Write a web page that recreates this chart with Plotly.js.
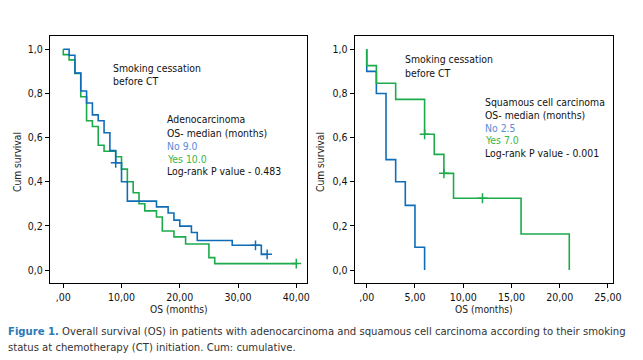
<!DOCTYPE html>
<html>
<head>
<meta charset="utf-8">
<script src="https://cdn.plot.ly/plotly-3.0.1.min.js"></script>
<style>
html,body{margin:0;padding:0;background:#fff;}
#chart{width:643px;height:360px;}
</style>
</head>
<body>
<div id="chart"></div>
<script>
// ---- Data ----
// Left panel: Adenocarcinoma
const adenoNoTime = [0, 1, 2, 3, 4, 5, 6, 7, 8, 9, 10, 11, 16, 18, 19, 20, 22, 23, 29, 34, 35];
const adenoNoSurv = [1.0, 0.973, 0.892, 0.811, 0.757, 0.703, 0.676, 0.622, 0.541, 0.486, 0.40, 0.312, 0.286, 0.258, 0.226, 0.199, 0.170, 0.134, 0.112, 0.071, 0.071];
const adenoNoCensT = [9, 33, 35];
const adenoNoCensS = [0.486, 0.112, 0.071];

const adenoYesTime = [0, 0, 1, 2, 3, 4, 5, 6, 7, 9, 10, 11, 12, 13, 14, 16, 17, 19, 21, 25, 26, 40];
const adenoYesSurv = [1.0, 0.976, 0.952, 0.891, 0.785, 0.676, 0.650, 0.565, 0.538, 0.513, 0.457, 0.400, 0.350, 0.300, 0.268, 0.240, 0.177, 0.150, 0.118, 0.056, 0.029, 0.029];
const adenoYesCensT = [40];
const adenoYesCensS = [0.029];

// Right panel: Squamous cell carcinoma
const squamNoTime = [0, 0, 1, 2, 3, 4, 5, 6];
const squamNoSurv = [1.0, 0.90, 0.80, 0.50, 0.40, 0.293, 0.103, 0.0];

const squamYesTime = [0, 0, 1, 3, 6, 7, 8, 9, 16, 21];
const squamYesSurv = [1.0, 0.926, 0.846, 0.773, 0.615, 0.524, 0.438, 0.325, 0.163, 0.0];
const squamYesCensT = [6, 8, 12];
const squamYesCensS = [0.615, 0.438, 0.325];

// Tick labels
const yTickVals = [0, 0.2, 0.4, 0.6, 0.8, 1.0];
const yTickText = ["0,0", "0,2", "0,4", "0,6", "0,8", "1,0"];
const xLeftTickVals = [0, 10, 20, 30, 40];
const xLeftTickText = [",00", "10,00", "20,00", "30,00", "40,00"];
const xRightTickVals = [0, 5, 10, 15, 20, 25];
const xRightTickText = [",00", "5,00", "10,00", "15,00", "20,00", "25,00"];

// ---- Styling ----
const BLUE = "#0f6db8";
const GREEN = "#1cab4a";
const FONT = "DejaVu Sans Condensed, DejaVu Sans, sans-serif";
const W = 643, H = 360;
const px = v => v / W;
const py = v => 1 - v / H;

function stepTrace(x, y, color, xa, ya) {
  return {x: x, y: y, type: "scatter", mode: "lines", xaxis: xa, yaxis: ya,
    line: {shape: "hv", color: color, width: 1.6}, hoverinfo: "skip", showlegend: false};
}
function censTrace(x, y, color, xa, ya) {
  return {x: x, y: y, type: "scatter", mode: "markers", xaxis: xa, yaxis: ya,
    marker: {symbol: "cross-thin", size: 7, line: {color: color, width: 1.5}, color: color},
    hoverinfo: "skip", showlegend: false};
}

const traces = [
  stepTrace(adenoYesTime, adenoYesSurv, GREEN, "x", "y"),
  stepTrace(adenoNoTime, adenoNoSurv, BLUE, "x", "y"),
  censTrace(adenoNoCensT, adenoNoCensS, BLUE, "x", "y"),
  censTrace(adenoYesCensT, adenoYesCensS, GREEN, "x", "y"),
  stepTrace(squamNoTime, squamNoSurv, BLUE, "x2", "y2"),
  stepTrace(squamYesTime, squamYesSurv, GREEN, "x2", "y2"),
  censTrace(squamYesCensT, squamYesCensS, GREEN, "x2", "y2")
];

const yDomain = [py(283), py(35.7)];
const axisCommon = {
  showline: true, mirror: true, linecolor: "#000", linewidth: 1,
  showgrid: false, zeroline: false, ticks: "outside", ticklen: 4, tickcolor: "#000",
  tickfont: {family: FONT, size: 10.5, color: "#111"}, fixedrange: true
};

const ANN_SIZE = 10.4;
const CAP_SIZE = 11.2;
const txt = (t, x, y, color, extra, size) => Object.assign({
  text: t, x: px(x), y: py(y), xref: "paper", yref: "paper",
  xanchor: "left", yanchor: "middle", showarrow: false,
  font: {family: FONT, size: size || ANN_SIZE, color: color || "#111"}
}, extra || {});

const annotations = [
  // left panel
  txt("Smoking cessation", 110.5, 67.5),
  txt("before CT", 110.5, 81.5),
  txt("Adenocarcinoma", 165, 119.5),
  txt("OS- median (months)", 165, 132.5),
  txt("No 9.0", 165, 145.5, "#5b8bd6"),
  txt("Yes 10.0", 165, 158.5, "#39b54a"),
  txt("Log-rank P value - 0.483", 165, 171),
  // right panel
  txt("Smoking cessation", 403, 59.5),
  txt("before CT", 403, 73),
  txt("Squamous cell carcinoma", 483, 101.5),
  txt("OS- median (months)", 483, 114.5),
  txt("No 2.5", 483, 127.5, "#5b8bd6"),
  txt("Yes 7.0", 483, 140, "#39b54a"),
  txt("Log-rank P value - 0.001", 483, 153),
  // axis titles
  txt("OS (months)", 178.5, 309.5, "#1a1a1a", {xanchor: "center"}, 10.2),
  txt("OS (months)", 483.7, 309.5, "#1a1a1a", {xanchor: "center"}, 10.2),
  txt("Cum survival", 18, 162, "#1a1a1a", {xanchor: "center", textangle: -90}, 10.2),
  txt("Cum survival", 321, 162, "#1a1a1a", {xanchor: "center", textangle: -90}, 10.2),
  // caption
  txt("<b><span style='color:#2a7ab8'>Figure 1.</span></b> Overall survival (OS) in patients with adenocarcinoma and squamous cell carcinoma according to their smoking", 6, 331.5, "#333", null, CAP_SIZE),
  txt("status at chemotherapy (CT) initiation. Cum: cumulative.", 6, 347, "#333", null, CAP_SIZE)
];

const layout = {
  width: W, height: H,
  margin: {l: 0, r: 0, t: 0, b: 0, pad: 0},
  paper_bgcolor: "#fff", plot_bgcolor: "#fff",
  showlegend: false,
  xaxis: Object.assign({}, axisCommon, {domain: [px(50), px(307)], range: [-2.28, 41.84],
    tickmode: "array", tickvals: xLeftTickVals, ticktext: xLeftTickText, anchor: "y"}),
  yaxis: Object.assign({}, axisCommon, {domain: yDomain, range: [-0.0589, 1.0616],
    tickmode: "array", tickvals: yTickVals, ticktext: yTickText, anchor: "x"}),
  xaxis2: Object.assign({}, axisCommon, {domain: [px(354.7), px(612.7)], range: [-1.247, 25.5],
    tickmode: "array", tickvals: xRightTickVals, ticktext: xRightTickText, anchor: "y2"}),
  yaxis2: Object.assign({}, axisCommon, {domain: yDomain, range: [-0.0589, 1.0616],
    tickmode: "array", tickvals: yTickVals, ticktext: yTickText, anchor: "x2"}),
  annotations: annotations
};

Plotly.newPlot("chart", traces, layout, {staticPlot: true, displayModeBar: false});
</script>
</body>
</html>
